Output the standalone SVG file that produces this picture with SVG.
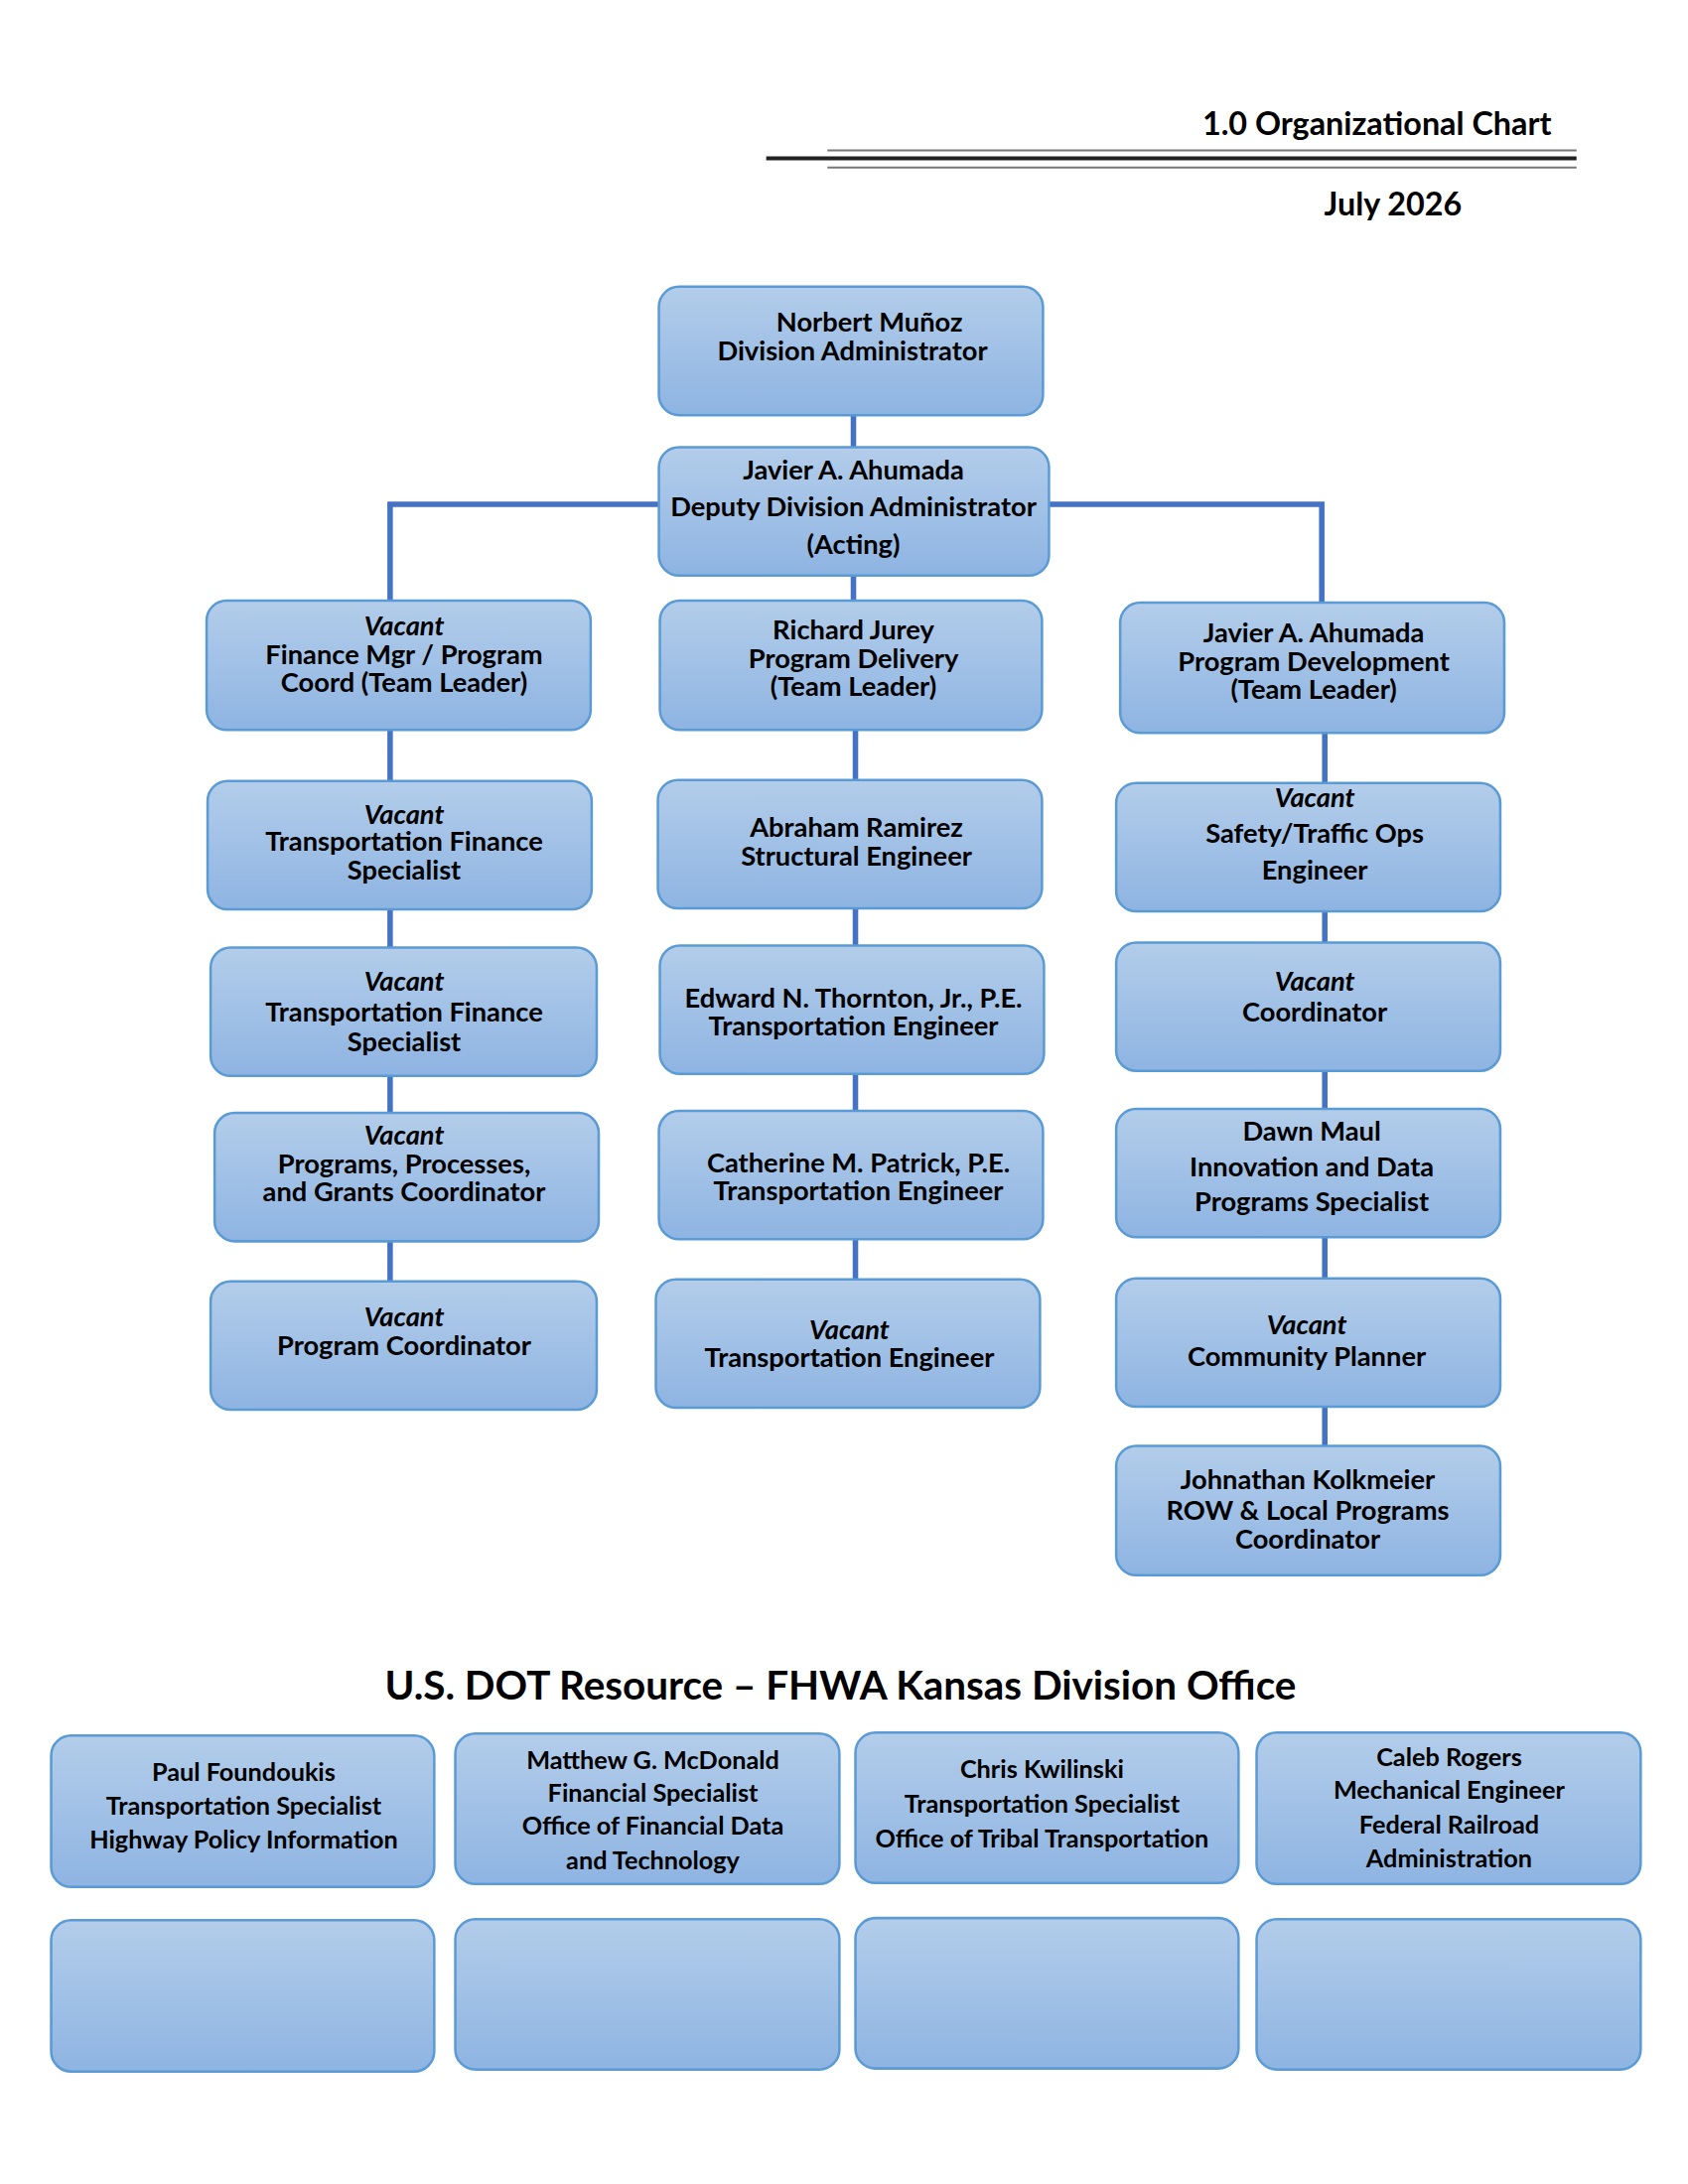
<svg xmlns="http://www.w3.org/2000/svg" width="1700" height="2200" viewBox="0 0 1700 2200">
<defs>
<linearGradient id="g" x1="0" y1="0" x2="0" y2="1"><stop offset="0" stop-color="#b3cdea"/><stop offset="1" stop-color="#8eb4e2"/></linearGradient>
<style>
.b{fill:url(#g);stroke:#5b9bd5;stroke-width:2.5}
.t{font-family:Lato,"Open Sans",sans-serif;font-weight:bold;font-size:27px;fill:#000;text-anchor:middle}
.s{font-family:Lato,"Open Sans",sans-serif;font-weight:bold;font-size:25px;fill:#000;text-anchor:middle}
.c{stroke:#4472c4;stroke-width:5.5;fill:none}
</style>
</defs>
<rect width="1700" height="2200" fill="#fff"/>
<g transform="scale(1.01)">
<text x="1547" y="135" font-family="Lato,sans-serif" font-weight="bold" font-size="32" text-anchor="end">1.0 Organizational Chart</text>
<line x1="825" y1="150" x2="1572" y2="150" stroke="#777" stroke-width="2"/>
<line x1="764" y1="158" x2="1572" y2="158" stroke="#222" stroke-width="4"/>
<line x1="825" y1="167" x2="1572" y2="167" stroke="#777" stroke-width="2"/>
<text x="1389" y="215" font-family="Lato,sans-serif" font-weight="bold" font-size="32" text-anchor="middle">July 2026</text>

<g id="connectors" class="c">
<line x1="851" y1="414" x2="851" y2="599"/>
<polyline points="657,503 389,503 389,599"/>
<polyline points="1046,503 1318,503 1318,601"/>
<line x1="389" y1="728" x2="389" y2="1278"/>
<line x1="853" y1="728" x2="853" y2="1276"/>
<line x1="1321" y1="731" x2="1321" y2="1442"/>
</g>

<g id="n-norbert"><rect class="b" x="657" y="286" width="383" height="128" rx="20"/><text class="t" x="867" y="331">Norbert Muñoz</text><text class="t" x="850" y="359">Division Administrator</text></g>
<g id="n-deputy"><rect class="b" x="657" y="446" width="389" height="128" rx="20"/><text class="t" x="851" y="478">Javier A. Ahumada</text><text class="t" x="851" y="515">Deputy Division Administrator</text><text class="t" x="851" y="552">(Acting)</text></g>

<g id="n-l1"><rect class="b" x="206" y="599" width="383" height="129" rx="20"/><text class="t" x="403" y="634" font-style="italic">Vacant</text><text class="t" x="403" y="662">Finance Mgr / Program</text><text class="t" x="403" y="690">Coord (Team Leader)</text></g>
<g id="n-l2"><rect class="b" x="207" y="779" width="383" height="128" rx="20"/><text class="t" x="403" y="822" font-style="italic">Vacant</text><text class="t" x="403" y="849">Transportation Finance</text><text class="t" x="403" y="877">Specialist</text></g>
<g id="n-l3"><rect class="b" x="210" y="945" width="385" height="128" rx="20"/><text class="t" x="403" y="988" font-style="italic">Vacant</text><text class="t" x="403" y="1019">Transportation Finance</text><text class="t" x="403" y="1049">Specialist</text></g>
<g id="n-l4"><rect class="b" x="214" y="1110" width="383" height="128" rx="20"/><text class="t" x="403" y="1142" font-style="italic">Vacant</text><text class="t" x="403" y="1170">Programs, Processes,</text><text class="t" x="403" y="1198">and Grants Coordinator</text></g>
<g id="n-l5"><rect class="b" x="210" y="1278" width="385" height="128" rx="20"/><text class="t" x="403" y="1323" font-style="italic">Vacant</text><text class="t" x="403" y="1351">Program Coordinator</text></g>

<g id="n-m1"><rect class="b" x="658" y="599" width="381" height="129" rx="20"/><text class="t" x="851" y="638">Richard Jurey</text><text class="t" x="851" y="666">Program Delivery</text><text class="t" x="851" y="694">(Team Leader)</text></g>
<g id="n-m2"><rect class="b" x="656" y="778" width="383" height="128" rx="20"/><text class="t" x="854" y="835">Abraham Ramirez</text><text class="t" x="854" y="863">Structural Engineer</text></g>
<g id="n-m3"><rect class="b" x="658" y="943" width="383" height="128" rx="20"/><text class="t" x="851" y="1005">Edward N. Thornton, Jr., P.E.</text><text class="t" x="851" y="1033">Transportation Engineer</text></g>
<g id="n-m4"><rect class="b" x="657" y="1108" width="383" height="128" rx="20"/><text class="t" x="856" y="1169">Catherine M. Patrick, P.E.</text><text class="t" x="856" y="1197">Transportation Engineer</text></g>
<g id="n-m5"><rect class="b" x="654" y="1276" width="383" height="128" rx="20"/><text class="t" x="847" y="1336" font-style="italic">Vacant</text><text class="t" x="847" y="1363">Transportation Engineer</text></g>

<g id="n-r1"><rect class="b" x="1117" y="601" width="383" height="130" rx="20"/><text class="t" x="1310" y="641">Javier A. Ahumada</text><text class="t" x="1310" y="669">Program Development</text><text class="t" x="1310" y="697">(Team Leader)</text></g>
<g id="n-r2"><rect class="b" x="1113" y="781" width="383" height="128" rx="20"/><text class="t" x="1311" y="805" font-style="italic">Vacant</text><text class="t" x="1311" y="841">Safety/Traffic Ops</text><text class="t" x="1311" y="877">Engineer</text></g>
<g id="n-r3"><rect class="b" x="1113" y="940" width="383" height="128" rx="20"/><text class="t" x="1311" y="988" font-style="italic">Vacant</text><text class="t" x="1311" y="1019">Coordinator</text></g>
<g id="n-r4"><rect class="b" x="1113" y="1106" width="383" height="128" rx="20"/><text class="t" x="1308" y="1138">Dawn Maul</text><text class="t" x="1308" y="1173">Innovation and Data</text><text class="t" x="1308" y="1208">Programs Specialist</text></g>
<g id="n-r5"><rect class="b" x="1113" y="1275" width="383" height="128" rx="20"/><text class="t" x="1303" y="1331" font-style="italic">Vacant</text><text class="t" x="1303" y="1362">Community Planner</text></g>
<g id="n-r6"><rect class="b" x="1113" y="1442" width="383" height="129" rx="20"/><text class="t" x="1304" y="1485">Johnathan Kolkmeier</text><text class="t" x="1304" y="1516">ROW &amp; Local Programs</text><text class="t" x="1304" y="1545">Coordinator</text></g>

<text x="838" y="1695" font-family="Lato,sans-serif" font-weight="bold" font-size="40" text-anchor="middle">U.S. DOT Resource – FHWA Kansas Division Office</text>

<g id="n-b1"><rect class="b" x="51" y="1731" width="382" height="151" rx="20"/><text class="s" x="243" y="1776">Paul Foundoukis</text><text class="s" x="243" y="1810">Transportation Specialist</text><text class="s" x="243" y="1844">Highway Policy Information</text></g>
<g id="n-b2"><rect class="b" x="454" y="1729" width="383" height="150" rx="20"/><text class="s" x="651" y="1764">Matthew G. McDonald</text><text class="s" x="651" y="1797">Financial Specialist</text><text class="s" x="651" y="1830">Office of Financial Data</text><text class="s" x="651" y="1864">and Technology</text></g>
<g id="n-b3"><rect class="b" x="853" y="1728" width="382" height="150" rx="20"/><text class="s" x="1039" y="1773">Chris Kwilinski</text><text class="s" x="1039" y="1808">Transportation Specialist</text><text class="s" x="1039" y="1843">Office of Tribal Transportation</text></g>
<g id="n-b4"><rect class="b" x="1253" y="1728" width="383" height="151" rx="20"/><text class="s" x="1445" y="1761">Caleb Rogers</text><text class="s" x="1445" y="1794">Mechanical Engineer</text><text class="s" x="1445" y="1829">Federal Railroad</text><text class="s" x="1445" y="1862">Administration</text></g>
<g id="n-e1"><rect class="b" x="51" y="1915" width="382" height="151" rx="20"/></g>
<g id="n-e2"><rect class="b" x="454" y="1914" width="383" height="150" rx="20"/></g>
<g id="n-e3"><rect class="b" x="853" y="1913" width="382" height="150" rx="20"/></g>
<g id="n-e4"><rect class="b" x="1253" y="1914" width="383" height="150" rx="20"/></g>
</g>
</svg>
